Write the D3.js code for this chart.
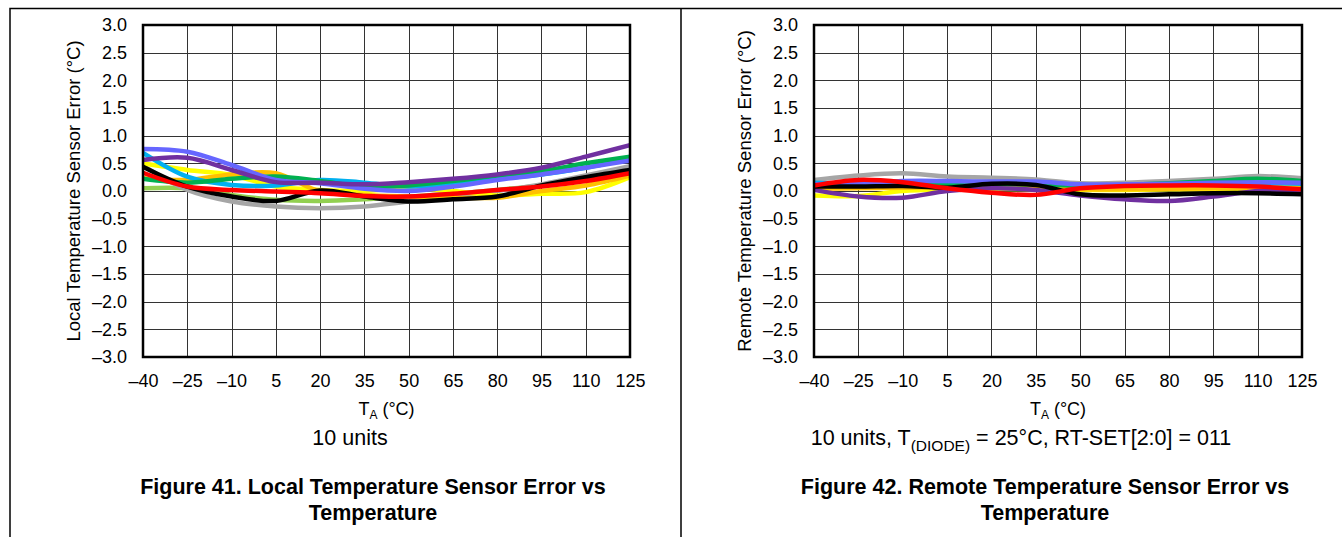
<!DOCTYPE html>
<html>
<head>
<meta charset="utf-8">
<script src="https://cdn.jsdelivr.net/npm/d3@7"></script>
<style>
    body { margin: 0; background: #fff; }
    svg text { font-family: "Liberation Sans", Arial, sans-serif; fill: #000; }
</style>
</head>
<body>
<div id="figure"></div>
<script>
// x categories (deg C) and y ticks
var temps = [-40, -25, -10, 5, 20, 35, 50, 65, 80, 95, 110, 125];
var yTicks = [-3, -2.5, -2, -1.5, -1, -0.5, 0, 0.5, 1, 1.5, 2, 2.5, 3];

// colours of the 10 units, in drawing order
var unitColors = ["#92D050", "#A6A6A6", "#FFFF00", "#FFC000", "#00B0F0",
                  "#00B050", "#6666FF", "#7030A0", "#000000", "#FF0000"];

// Figure 41 - local sensor error, one row per unit (same order as colours)
var localLightGreen = [0.05, 0.05, -0.07, -0.16, -0.18, -0.15, -0.10, -0.05, 0.02, 0.10, 0.20, 0.32];
var localGray       = [0.46, 0.02, -0.19, -0.28, -0.31, -0.28, -0.19, -0.10, 0.00, 0.12, 0.28, 0.45];
var localYellow     = [0.50, 0.38, 0.29, 0.08, 0.02, 0.00, 0.05, 0.00, -0.08, -0.05, -0.02, 0.25];
var localOrange     = [0.23, 0.20, 0.30, 0.32, -0.01, -0.07, -0.10, -0.12, -0.12, 0.00, 0.10, 0.28];
var localLightBlue  = [0.69, 0.26, 0.11, 0.10, 0.20, 0.15, 0.08, 0.12, 0.22, 0.30, 0.42, 0.58];
var localGreen      = [0.22, 0.15, 0.22, 0.26, 0.18, 0.08, 0.10, 0.18, 0.28, 0.36, 0.50, 0.62];
var localBlue       = [0.76, 0.71, 0.47, 0.20, 0.14, 0.04, 0.00, 0.08, 0.20, 0.30, 0.42, 0.55];
var localPurple     = [0.56, 0.60, 0.38, 0.16, 0.15, 0.12, 0.16, 0.22, 0.30, 0.42, 0.62, 0.83];
var localBlack      = [0.44, 0.08, -0.10, -0.18, 0.01, -0.10, -0.19, -0.15, -0.10, 0.10, 0.25, 0.38];
var localRed        = [0.33, 0.08, 0.02, -0.01, -0.04, -0.09, -0.10, -0.05, 0.02, 0.08, 0.18, 0.32];

// Figure 42 - remote sensor error
var remoteLightGreen = [0.06, 0.07, 0.08, 0.06, 0.06, 0.05, 0.05, 0.06, 0.07, 0.08, 0.08, 0.06];
var remoteGray       = [0.20, 0.28, 0.32, 0.26, 0.24, 0.21, 0.14, 0.15, 0.18, 0.22, 0.27, 0.23];
var remoteYellow     = [-0.08, -0.09, 0.00, 0.03, 0.04, 0.03, 0.02, 0.02, 0.03, 0.03, 0.02, 0.00];
var remoteOrange     = [0.04, 0.05, 0.06, 0.07, 0.08, 0.05, 0.03, 0.03, 0.04, 0.05, 0.06, 0.08];
var remoteLightBlue  = [0.15, 0.12, 0.10, 0.12, 0.14, 0.14, 0.10, 0.10, 0.12, 0.14, 0.15, 0.13];
var remoteGreen      = [0.10, 0.10, 0.10, 0.10, 0.12, 0.12, 0.10, 0.11, 0.14, 0.18, 0.22, 0.18];
var remoteBlue       = [0.12, 0.14, 0.18, 0.18, 0.17, 0.17, 0.12, 0.12, 0.13, 0.15, 0.16, 0.15];
var remotePurple     = [0.02, -0.10, -0.12, 0.00, 0.05, 0.02, -0.08, -0.15, -0.18, -0.10, 0.00, 0.02];
var remoteBlack      = [0.08, 0.08, 0.09, 0.06, 0.13, 0.11, -0.06, -0.08, -0.06, -0.04, -0.04, -0.06];
var remoteRed        = [0.10, 0.20, 0.16, 0.05, -0.03, -0.07, 0.05, 0.09, 0.10, 0.10, 0.08, 0.03];

var localSeries = [localLightGreen, localGray, localYellow, localOrange, localLightBlue,
                   localGreen, localBlue, localPurple, localBlack, localRed];
var remoteSeries = [remoteLightGreen, remoteGray, remoteYellow, remoteOrange, remoteLightBlue,
                    remoteGreen, remoteBlue, remotePurple, remoteBlack, remoteRed];

var W = 1342, H = 537;
var FONT = "\"Liberation Sans\", Arial, sans-serif";

var svg = d3.select("#figure").append("svg")
    .attr("width", W)
    .attr("height", H);

// page frame: top rule, left rule, column divider
svg.append("path")
    .attr("d", "M10,537V8.5H1342M681,8.5V537")
    .attr("fill", "none")
    .attr("stroke", "#000")
    .attr("stroke-width", 1.5);

function fmtTick(v) {
    // minus sign as en dash like the datasheet
    return d3.format(".1f")(v).replace("-", "\u2013").replace("\u2212", "\u2013");
}

function drawChart(opt) {
    var g = svg.append("g");

    var x = d3.scaleLinear().domain([-40, 125]).range([opt.left, opt.right]);
    var y = d3.scaleLinear().domain([-3, 3]).range([357, 25]);

    // grid
    g.append("g").selectAll("line")
        .data(temps)
        .enter().append("line")
        .attr("x1", d => Math.round(x(d)) + 0.5)
        .attr("x2", d => Math.round(x(d)) + 0.5)
        .attr("y1", y(3)).attr("y2", y(-3))
        .attr("stroke", "#333").attr("stroke-width", 1);

    g.append("g").selectAll("line")
        .data(yTicks)
        .enter().append("line")
        .attr("x1", x(-40)).attr("x2", x(125))
        .attr("y1", d => Math.round(y(d)) + 0.5)
        .attr("y2", d => Math.round(y(d)) + 0.5)
        .attr("stroke", "#333").attr("stroke-width", 1);

    // y tick labels
    var yAxis = d3.axisLeft(y).tickValues(yTicks).tickSize(0).tickPadding(16).tickFormat(fmtTick);
    g.append("g")
        .attr("transform", "translate(" + x(-40) + ",0)")
        .call(yAxis)
        .call(a => a.select(".domain").remove())
        .selectAll("text")
        .style("font-size", "18px")
        .style("font-family", FONT);

    // x tick labels
    var xAxis = d3.axisBottom(x).tickValues(temps).tickSize(0).tickPadding(17)
        .tickFormat(d => String(d).replace("-", "\u2013"));
    g.append("g")
        .attr("transform", "translate(0," + y(-3) + ")")
        .call(xAxis)
        .call(a => a.select(".domain").remove())
        .selectAll("text")
        .style("font-size", "18px")
        .style("font-family", FONT);

    // series
    var line = d3.line()
        .x((d, i) => x(temps[i]))
        .y(d => y(d))
        .curve(d3.curveCatmullRom.alpha(0.5));

    g.append("g").selectAll("path")
        .data(opt.series)
        .enter().append("path")
        .attr("d", line)
        .attr("fill", "none")
        .attr("stroke", (d, i) => unitColors[i])
        .attr("stroke-width", 4.5)
        .attr("stroke-linejoin", "round");

    // plot frame
    g.append("rect")
        .attr("x", x(-40)).attr("y", y(3))
        .attr("width", x(125) - x(-40))
        .attr("height", y(-3) - y(3))
        .attr("fill", "none")
        .attr("stroke", "#000")
        .attr("stroke-width", 2.5);

    // y title
    g.append("text")
        .attr("transform", "translate(" + opt.yTitleX + "," + 191 + ") rotate(-90)")
        .attr("text-anchor", "middle")
        .style("font-size", "18.5px")
        .text(opt.yTitle);

    // x title  T_A (°C)
    var xt = g.append("text")
        .attr("x", (x(-40) + x(125)) / 2)
        .attr("y", 415)
        .attr("text-anchor", "middle")
        .style("font-size", "18px");
    xt.append("tspan").text("T");
    xt.append("tspan").attr("dy", 4).style("font-size", "12px").text("A");
    xt.append("tspan").attr("dy", -4).text(" (\u00B0C)");

    // condition note
    var note = g.append("text")
        .attr("x", opt.noteX)
        .attr("y", 445)
        .attr("text-anchor", "middle")
        .style("font-size", "21.5px");
    opt.note.forEach(function (part) {
        var t = note.append("tspan").text(part.text);
        if (part.sub) {
            t.attr("dy", 6).style("font-size", "15.5px");
        } else if (part.back) {
            t.attr("dy", -6);
        }
    });

    // figure caption
    opt.caption.forEach(function (txt, i) {
        g.append("text")
            .attr("x", opt.captionX)
            .attr("y", 494 + i * 26)
            .attr("text-anchor", "middle")
            .style("font-size", "21.5px")
            .style("font-weight", "bold")
            .text(txt);
    });
}

drawChart({
    left: 143, right: 630,
    series: localSeries,
    yTitle: "Local Temperature Sensor Error (\u00B0C)",
    yTitleX: 80,
    note: [{text: "10 units"}],
    noteX: 350,
    caption: ["Figure 41. Local Temperature Sensor Error vs", "Temperature"],
    captionX: 373
});

drawChart({
    left: 814, right: 1302,
    series: remoteSeries,
    yTitle: "Remote Temperature Sensor Error (\u00B0C)",
    yTitleX: 751,
    note: [{text: "10 units, T"}, {text: "(DIODE)", sub: true}, {text: " = 25\u00B0C, RT-SET[2:0] = 011", back: true}],
    noteX: 1021,
    caption: ["Figure 42. Remote Temperature Sensor Error vs", "Temperature"],
    captionX: 1045
});
</script>
</body>
</html>
